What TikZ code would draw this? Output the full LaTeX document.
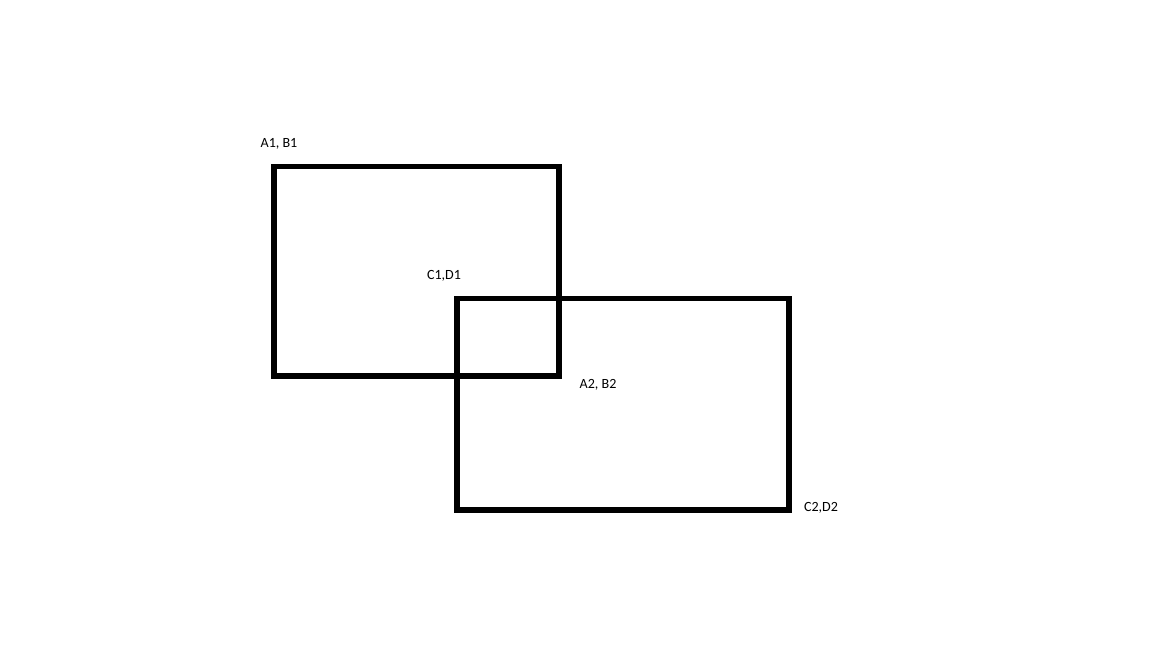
\documentclass[tikz,border=0pt]{standalone}
\usepackage{fontspec}
\setmainfont{Carlito}
\usetikzlibrary{positioning, calc}

\begin{document}
\begin{tikzpicture}[x=0.02cm, y=-0.02cm,
    box/.style={draw=black, line width=3.1pt},
    tag/.style={font=\fontsize{8}{9}\selectfont, inner sep=0pt}]
% Page frame
\useasboundingbox[fill=white] (0,0) rectangle (1152,648);

% First rectangle
\coordinate (tl1) at (274,166.5);
\coordinate (br1) at (559,376);
\draw[box] (tl1) rectangle (br1);

% Second rectangle
\coordinate (tl2) at (457,298.5);
\coordinate (br2) at (789,510);
\draw[box] (tl2) rectangle (br2);

% Corner labels
\node[tag] (ab1) at (279,144) {A1, B1};
\node[tag] (cd1) at (444,276) {C1,D1};
\node[tag] (ab2) at (598,385) {A2, B2};
\node[tag] (cd2) at (821,508) {C2,D2};
\end{tikzpicture}
\end{document}
